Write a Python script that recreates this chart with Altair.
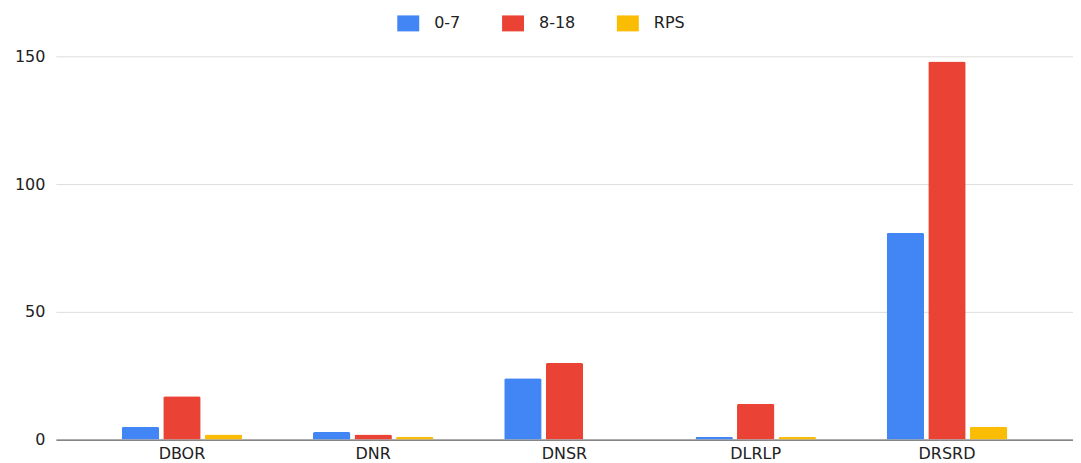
import altair as alt
import pandas as pd

categories = ["DBOR", "DNR", "DNSR", "DLRLP", "DRSRD"]
series = ["0-7", "8-18", "RPS"]
vals_0_7 = [5, 3, 24, 1, 81]
vals_8_18 = [17, 2, 30, 14, 148]
vals_rps = [2, 1, 0, 1, 5]
colors = ["#4285F4", "#EA4335", "#FBBC04"]
y_ticks = [0, 50, 100, 150]

rows = []
for s, vals in zip(series, [vals_0_7, vals_8_18, vals_rps]):
    for c, v in zip(categories, vals):
        rows.append({"cat": c, "series": s, "value": v})
df = pd.DataFrame(rows)

FONT = "DejaVu Sans"

chart = (
    alt.Chart(df)
    .mark_bar(cornerRadiusTopLeft=2, cornerRadiusTopRight=2)
    .encode(
        x=alt.X(
            "cat:N",
            sort=categories,
            title=None,
            scale=alt.Scale(paddingInner=0.37, paddingOuter=0.344),
            axis=alt.Axis(
                labelAngle=0,
                ticks=False,
                domainColor="#444",
                domainWidth=1,
                labelFont=FONT,
                labelFontSize=16,
                labelColor="#222",
                labelPadding=6,
                grid=False,
            ),
        ),
        xOffset=alt.XOffset("series:N", sort=series, scale=alt.Scale(paddingInner=0.1)),
        y=alt.Y(
            "value:Q",
            title=None,
            scale=alt.Scale(domain=[0, 150], nice=False),
            axis=alt.Axis(
                values=y_ticks,
                domain=False,
                ticks=False,
                gridColor="#dddddd",
                labelFont=FONT,
                labelFontSize=16,
                labelColor="#222",
                labelPadding=11,
            ),
        ),
        color=alt.Color(
            "series:N",
            sort=series,
            scale=alt.Scale(domain=series, range=colors),
            legend=alt.Legend(
                title=None,
                orient="none",
                direction="horizontal",
                legendX=345,
                legendY=-41,
                symbolType="M-1.375,-1H1.375V1H-1.375Z",
                symbolSize=256,
                symbolStrokeWidth=0,
                labelFont=FONT,
                labelFontSize=16,
                labelColor="#222",
                labelOffset=18,
                columnPadding=41,
            ),
        ),
    )
    .properties(
        width=1019,
        height=384,
        autosize=alt.AutoSizeParams(type="none"),
        padding={"left": 48, "top": 48, "right": 0, "bottom": 23},
        background="white",
    )
    .configure_view(strokeWidth=0, stroke="transparent")
)

chart.save("out.html", embed_options={"renderer": "svg", "actions": False})
